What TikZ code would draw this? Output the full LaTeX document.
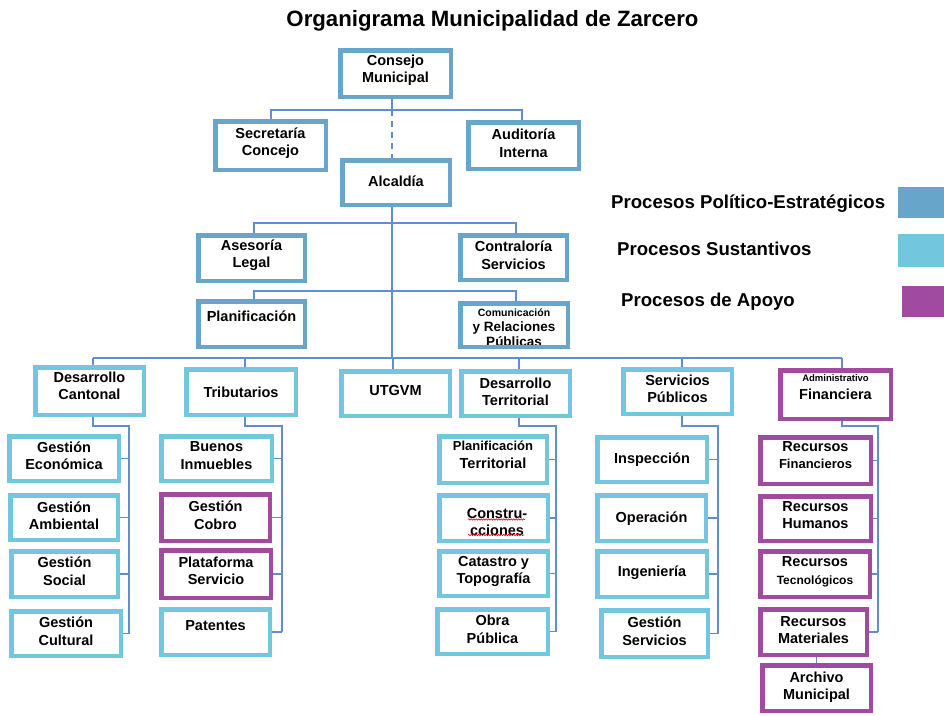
\documentclass[tikz,border=0pt]{standalone}
\usepackage{fontspec}
\setmainfont{Liberation Sans}
\usetikzlibrary{calc,decorations.pathmorphing}
\definecolor{polc}{HTML}{68A5CB}
\definecolor{susc}{HTML}{72C7DE}
\definecolor{apoc}{HTML}{A04AA0}
\definecolor{linc}{HTML}{5F8FD0}
\tikzset{
  bx/.style={draw, line width=4.5pt, fill=white, inner sep=0pt},
  pol/.style={bx, draw=polc},
  sus/.style={bx, draw=susc},
  apo/.style={bx, draw=apoc},
  txt/.style={font=\bfseries\fontsize{14.5}{17.5}\selectfont, align=center, inner sep=0pt},
  leg/.style={font=\bfseries\fontsize{18.6}{21}\selectfont, inner sep=0pt, anchor=base west},
  key/.style={inner sep=0pt, draw=none},
  ln/.style={draw=linc, line width=1.5pt},
}
\newcommand\bxx[9]{%
  \node[#2, minimum width={(#5-#3-4.5)*1pt}, minimum height={(#6-#4-4.5)*1pt}] (#1) at ({(#3+#5)/2},{(#4+#6)/2}) {};
  \node[txt] (#1-t) at ($(#1.center)+(0,#7)$) {#8#9};}
\begin{document}
\begin{tikzpicture}[x=1pt,y=-1pt]
\useasboundingbox (0,0) rectangle (944,715);
\fill[white] (0,0) rectangle (944,715);

\node[font=\bfseries\fontsize{22.2}{26}\selectfont, anchor=base, inner sep=0pt] (title) at (492.5,26) {Organigrama Municipalidad de Zarcero};

% legend
\node[leg] (l1) at (611,208) {Procesos Político-Estratégicos};
\node[leg] (l2) at (617,255) {Procesos Sustantivos};
\node[leg] (l3) at (621,306) {Procesos de Apoyo};
\node[key, fill=polc, minimum width=46pt, minimum height=31pt] (k1) at (921,202.5) {};
\node[key, fill=susc, minimum width=46pt, minimum height=33pt] (k2) at (921,250.5) {};
\node[key, fill=apoc, minimum width=42pt, minimum height=31pt] (k3) at (923,301.5) {};

% coordinates for connectors
\coordinate (j0) at (392,110);
\coordinate (ja) at (392,223);
\coordinate (jb) at (392,291);
\coordinate (m0) at (392,358);
\coordinate (dcd) at (93,358);
\coordinate (trd) at (245,358);
\coordinate (utd) at (393,358);
\coordinate (dtd) at (519,358);
\coordinate (spd) at (682,358);
\coordinate (afd) at (842,358);
\coordinate (dcb) at (129,426);
\coordinate (trb) at (282,426);
\coordinate (dtb) at (556,426);
\coordinate (spb) at (718,426);
\coordinate (afb) at (878,426);

% connectors (drawn first, boxes on top)
\draw[ln] (392,99) -- (j0);
\draw[ln] (271,119) -- (271,110) -- (522,110) -- (522,120);
\draw[ln, dash pattern=on 6pt off 5pt] (j0) -- (392,158);
\draw[ln] (392,207) -- (m0);
\draw[ln] (254,233) -- (254,223) -- (516,223) -- (516,233);
\draw[ln] (254,299) -- (254,291) -- (516,291) -- (516,301);
\draw[ln] (dcd) -- (afd);

% top boxes
\bxx{consejo}{pol}{338}{48}{453}{99}{-3.5}{}{Consejo\\Municipal}
\bxx{secre}{pol}{213}{119}{328}{172}{-2.5}{}{Secretaría\\Concejo}
\bxx{audit}{pol}{466}{120}{581}{171}{-2.5}{}{Auditoría\\Interna}
\bxx{alcaldia}{pol}{340}{158}{452}{207}{-1.5}{}{Alcaldía}
\bxx{asesoria}{pol}{196}{233}{307}{283}{-3}{}{Asesoría\\Legal}
\bxx{contral}{pol}{458}{233}{569}{282}{-2.5}{}{Contraloría\\Servicios}
\bxx{planif}{pol}{196}{299}{307}{349}{-8}{}{Planificación}
\node[pol, minimum width=107.5pt, minimum height=43.5pt] (comunic) at (514,325) {};
\begin{scope}
  \clip (462.5,305) rectangle (565.5,344.5);
  \node[txt, anchor=north, font=\bfseries\fontsize{13.5}{15}\selectfont] (comunic-t) at (514,308.5) {{\fontsize{10.5}{12}\selectfont Comunicación}\\y Relaciones\\Públicas};
\end{scope}

% second level
\bxx{dc}{sus}{33}{365}{146}{417}{-5}{}{Desarrollo\\Cantonal}
\bxx{trib}{sus}{184}{367}{298}{417}{0}{}{Tributarios}
\bxx{utgvm}{sus}{339}{369}{452}{418}{-3}{}{UTGVM}
\bxx{dt}{sus}{459}{369}{572}{418}{-1.5}{}{Desarrollo\\Territorial}
\bxx{sp}{sus}{621}{367}{734}{416}{-2.5}{}{Servicios\\Públicos}
\bxx{af}{apo}{778}{368}{893}{421}{-7.5}{}{{\fontsize{9.5}{12}\selectfont Administrativo}\\Financiera}

% drops from main line
\draw[ln] (dcd) -- (dcd |- dc.north);
\draw[ln] (trd) -- (trd |- trib.north);
\draw[ln] (utd) -- (utd |- utgvm.north);
\draw[ln] (dtd) -- (dtd |- dt.north);
\draw[ln] (spd) -- (spd |- sp.north);
\draw[ln] (afd) -- (afd |- af.north);

% Desarrollo Cantonal children
\bxx{econ}{sus}{7}{434}{121}{483}{-3}{}{Gestión\\Económica}
\bxx{amb}{sus}{8}{493}{120}{542}{-2}{}{Gestión\\Ambiental}
\bxx{soc}{sus}{9}{549}{120}{599}{-3}{}{Gestión\\Social}
\bxx{cult}{sus}{9}{609}{123}{658}{-2.5}{}{Gestión\\Cultural}
\draw[ln] (dcd |- dc.south) -- (dcd |- dcb) -- (dcb) -- (dcb |- cult.east);
\foreach \c in {econ,amb,soc,cult} \draw[ln] (\c.east) -- (\c.east -| dcb);

% Tributarios children
\bxx{buenos}{sus}{159}{434}{274}{483}{-3}{}{Buenos\\Inmuebles}
\bxx{cobro}{apo}{159}{492}{272}{543}{-2.5}{}{Gestión\\Cobro}
\bxx{plat}{apo}{159}{548}{273}{600}{-3}{}{Plataforma\\Servicio}
\bxx{patentes}{sus}{159}{607}{272}{657}{-6}{}{Patentes}
\draw[ln] (trd |- trib.south) -- (trd |- trb) -- (trb) -- (trb |- patentes.east);
\foreach \c in {buenos,cobro,plat,patentes} \draw[ln] (\c.east) -- (\c.east -| trb);

% Desarrollo Territorial children
\bxx{pterr}{sus}{437}{434}{549}{485}{-4.5}{}{{\fontsize{13}{15}\selectfont Planificación}\\Territorial}
\node[sus, minimum width=108.5pt, minimum height=45.5pt] (constr) at (493.5,518) {};
\node[txt] (constr-t) at (497,522) {Constru-\\cciones};
\draw[red, line width=0.6pt, decorate, decoration={snake, amplitude=0.7pt, segment length=2.5pt}] (468,519.5) -- (525,519.5);
\draw[red, line width=0.6pt, decorate, decoration={snake, amplitude=0.7pt, segment length=2.5pt}] (468,535) -- (524,535);
\bxx{catastro}{sus}{437}{549}{550}{598}{-2}{}{Catastro y\\Topografía}
\bxx{obra}{sus}{435}{607}{550}{656}{-2}{}{Obra\\Pública}
\draw[ln] (dtd |- dt.south) -- (dtd |- dtb) -- (dtb) -- (dtb |- obra.east);
\foreach \c in {pterr,constr,catastro,obra} \draw[ln] (\c.east) -- (\c.east -| dtb);

% Servicios Publicos children
\bxx{insp}{sus}{595}{435}{709}{484}{0}{}{Inspección}
\bxx{oper}{sus}{595}{493}{708}{543}{1}{}{Operación}
\bxx{ing}{sus}{595}{549}{709}{599}{-1}{}{Ingeniería}
\bxx{gserv}{sus}{599}{608}{710}{659}{-2.5}{}{Gestión\\Servicios}
\draw[ln] (spd |- sp.south) -- (spd |- spb) -- (spb) -- (spb |- gserv.east);
\foreach \c in {insp,oper,ing,gserv} \draw[ln] (\c.east) -- (\c.east -| spb);

% Administrativo Financiera children
\bxx{rfin}{apo}{758}{435}{873}{486}{-5.5}{}{Recursos\\{\fontsize{13}{15}\selectfont Financieros}}
\bxx{rhum}{apo}{758}{494}{873}{543}{-3.5}{}{Recursos\\Humanos}
\bxx{rtec}{apo}{758}{549}{872}{599}{-2}{}{Recursos\\{\fontsize{12}{15}\selectfont Tecnológicos}}
\bxx{rmat}{apo}{758}{607}{869}{657}{-2}{}{Recursos\\Materiales}
\bxx{arch}{apo}{760}{663}{873}{713}{-1}{}{Archivo\\Municipal}
\draw[ln] (afd |- af.south) -- (afd |- afb) -- (afb) -- (afb |- rmat.east);
\foreach \c in {rfin,rhum,rtec,rmat} \draw[ln] (\c.east) -- (\c.east -| afb);
\draw[ln] (arch.north) -- (arch.north |- rmat.south);
\end{tikzpicture}
\end{document}
